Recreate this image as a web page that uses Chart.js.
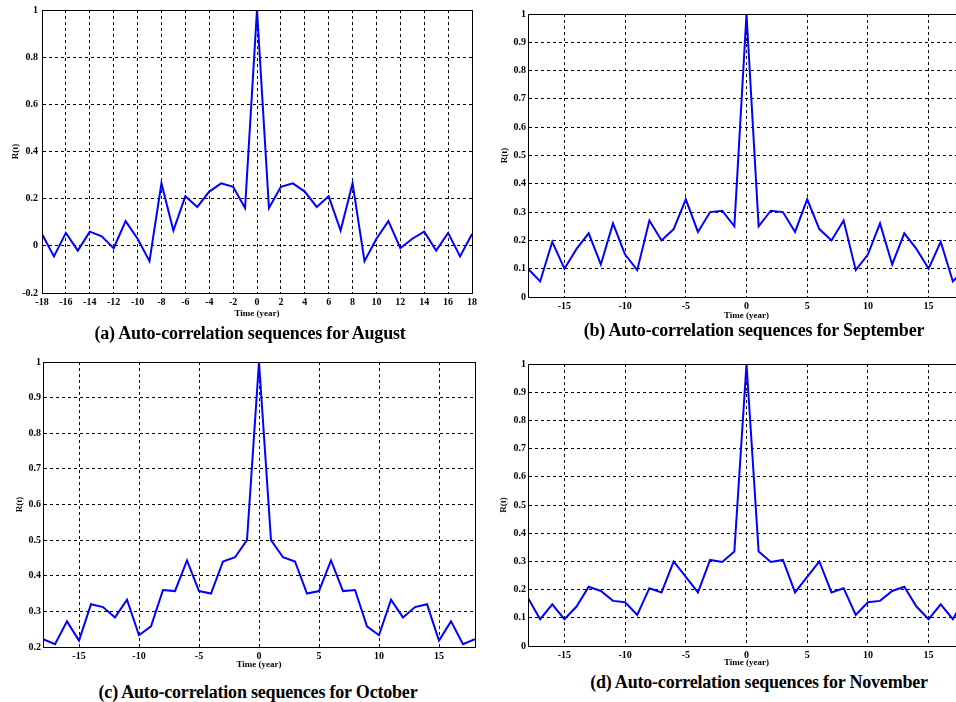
<!DOCTYPE html>
<html>
<head>
<meta charset="utf-8">
<script src="https://cdn.jsdelivr.net/npm/chart.js@4/dist/chart.umd.min.js"></script>
<style>
  html, body { margin: 0; padding: 0; width: 956px; height: 702px; overflow: hidden; background: #fff; }
  canvas { position: absolute; }
  .cap { position: absolute; font-family: "Liberation Serif", "Times New Roman", serif; font-weight: bold;
         font-size: 18px; color: #000; white-space: nowrap; transform: translate(-50%, -50%); letter-spacing: -0.2px; }
</style>
</head>
<body>
<canvas id="c-aug" width="480" height="320" style="left:0;top:0"></canvas>
<canvas id="c-sep" width="490" height="322" style="left:480px;top:0"></canvas>
<canvas id="c-oct" width="480" height="330" style="left:0;top:340px"></canvas>
<canvas id="c-nov" width="490" height="328" style="left:480px;top:340px"></canvas>
<div class="cap" style="left:250px;top:333px">(a) Auto-correlation sequences for August</div>
<div class="cap" style="left:754px;top:330px">(b) Auto-correlation sequences for September</div>
<div class="cap" style="left:258px;top:692px">(c) Auto-correlation sequences for October</div>
<div class="cap" style="left:759px;top:682px">(d) Auto-correlation sequences for November</div>
<script>
// lags -18 .. 18 (years)
const LAGS = [-18,-17,-16,-15,-14,-13,-12,-11,-10,-9,-8,-7,-6,-5,-4,-3,-2,-1,0,1,2,3,4,5,6,7,8,9,10,11,12,13,14,15,16,17,18];

const R_AUG = [0.05,-0.045,0.055,-0.02,0.06,0.04,-0.01,0.105,0.03,-0.065,0.265,0.065,0.21,0.165,0.23,0.265,0.25,0.16,
               1,
               0.16,0.25,0.265,0.23,0.165,0.21,0.065,0.265,-0.065,0.03,0.105,-0.01,0.03,0.06,-0.02,0.055,-0.045,0.05];
const R_SEP = [0.1,0.055,0.195,0.1,0.17,0.225,0.115,0.26,0.15,0.095,0.27,0.2,0.24,0.345,0.23,0.3,0.305,0.25,
               1,
               0.25,0.305,0.3,0.23,0.345,0.24,0.2,0.27,0.095,0.15,0.26,0.115,0.225,0.17,0.1,0.195,0.055,0.1];
const R_OCT = [0.222,0.208,0.272,0.218,0.32,0.312,0.283,0.333,0.233,0.258,0.36,0.357,0.443,0.357,0.35,0.44,0.452,0.5,
               1,
               0.5,0.452,0.44,0.35,0.357,0.443,0.357,0.36,0.258,0.233,0.333,0.283,0.312,0.32,0.218,0.272,0.208,0.222];
const R_NOV = [0.17,0.095,0.148,0.095,0.14,0.21,0.195,0.16,0.155,0.11,0.205,0.19,0.3,0.245,0.19,0.305,0.298,0.335,
               1,
               0.335,0.298,0.305,0.19,0.245,0.3,0.19,0.205,0.11,0.155,0.16,0.195,0.21,0.14,0.095,0.148,0.095,0.17];

const FONT = "'Liberation Serif', 'Times New Roman', serif";
const INK = "#000";
const LINE = "#0000ff";
const tickFont = { family: FONT, size: 10, weight: "bold" };

// matlab-style labels: 1, 0, 0.2 ...
const fmtTick = (v) => String(+v.toFixed(2));

// solid frame round the plot area
const framePlugin = {
  id: "frame",
  afterDraw(chart) {
    const a = chart.chartArea, ctx = chart.ctx;
    ctx.save();
    ctx.strokeStyle = INK; ctx.lineWidth = 1;
    ctx.strokeRect(Math.round(a.left) + 0.5, Math.round(a.top) + 0.5, Math.round(a.right - a.left), Math.round(a.bottom - a.top));
    ctx.restore();
  }
};

function renderPanel(id, values, g) {
  new Chart(document.getElementById(id), {
    type: "line",
    data: {
      datasets: [{
        data: LAGS.map((t, i) => ({ x: t, y: values[i] })),
        borderColor: LINE, borderWidth: 2, pointRadius: 0, tension: 0, fill: false
      }]
    },
    options: {
      responsive: false, animation: false,
      layout: { padding: { top: g.padTop, right: g.padRight, left: 0, bottom: 0 } },
      plugins: { legend: { display: false }, tooltip: { enabled: false } },
      scales: {
        x: {
          type: "linear", min: -18, max: 18,
          afterFit: (s) => { s.height = g.xH; },
          grid: { color: INK, lineWidth: 1, drawTicks: false },
          border: { color: INK, width: 1, dash: [3, 3] },
          ticks: { stepSize: g.xStep, includeBounds: g.xBounds, color: INK, padding: g.xPad, maxRotation: 0,
                   autoSkip: false, font: tickFont, callback: fmtTick },
          title: { display: true, text: "Time (year)", color: INK, padding: { top: 0, bottom: g.xTitlePad },
                   font: { family: FONT, size: 9, weight: "bold" } }
        },
        y: {
          min: g.yMin, max: 1,
          afterFit: (s) => { s.width = g.yW; },
          grid: { color: INK, lineWidth: 1, drawTicks: false },
          border: { color: INK, width: 1, dash: [3, 3] },
          ticks: { stepSize: g.yStep, color: INK, padding: g.yPad, font: tickFont, callback: fmtTick },
          title: { display: true, text: "R(t)", color: INK, padding: { top: g.yTitlePad, bottom: 0 },
                   font: { family: FONT, size: 9, weight: "bold" } }
        }
      }
    },
    plugins: [framePlugin]
  });
}

renderPanel("c-aug", R_AUG, { padTop: 8, padRight: 8, xH: 27, yW: 42, yMin: -0.2, yStep: 0.2, xStep: 2, xBounds: true,
                              xPad: 3, yPad: 4, xTitlePad: 1, yTitlePad: 10 });
renderPanel("c-sep", R_SEP, { padTop: 14, padRight: 5, xH: 25, yW: 48, yMin: 0, yStep: 0.1, xStep: 5, xBounds: false,
                              xPad: 3, yPad: 2, xTitlePad: 1, yTitlePad: 19 });
renderPanel("c-oct", R_OCT, { padTop: 22, padRight: 5, xH: 23, yW: 43, yMin: 0.2, yStep: 0.1, xStep: 5, xBounds: false,
                              xPad: 3, yPad: 2, xTitlePad: 0, yTitlePad: 14 });
renderPanel("c-nov", R_NOV, { padTop: 24, padRight: 5, xH: 22, yW: 48, yMin: 0, yStep: 0.1, xStep: 5, xBounds: false,
                              xPad: 3, yPad: 2, xTitlePad: 0, yTitlePad: 18 });
</script>
</body>
</html>
